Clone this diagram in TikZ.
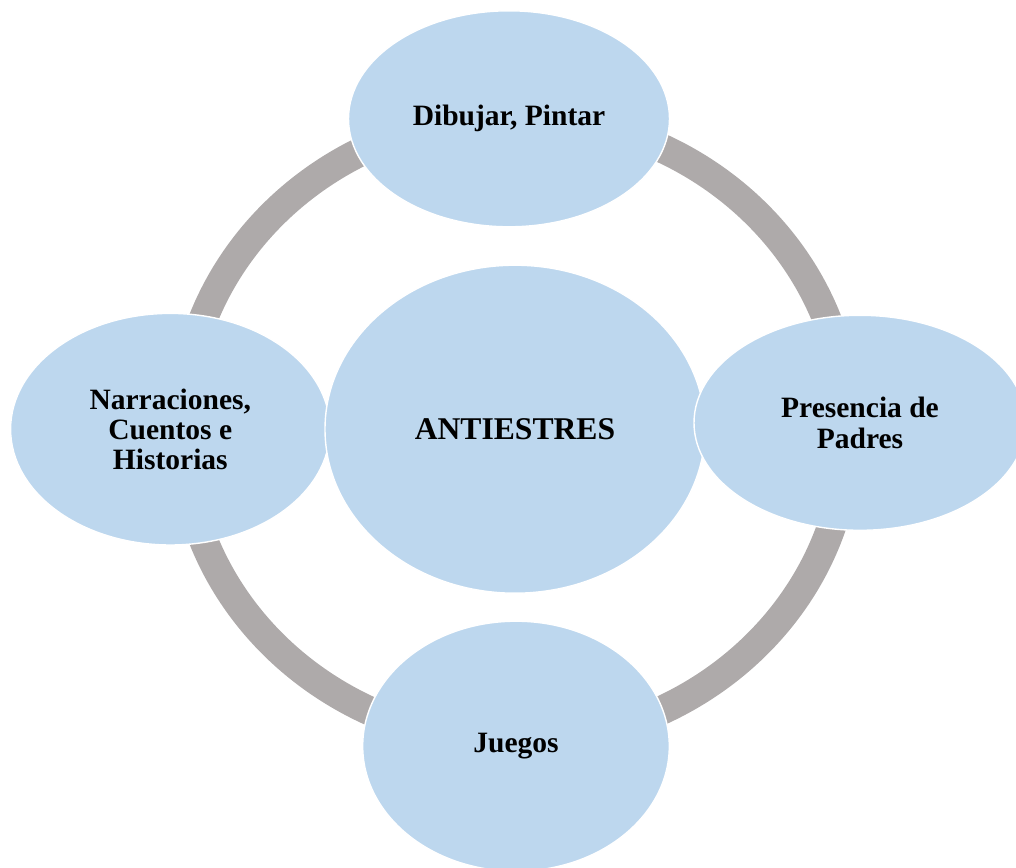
\documentclass[tikz,border=0pt]{standalone}
\usepackage{fontspec}
\setmainfont{Liberation Serif}
\usepackage{tikz}
\usetikzlibrary{shapes,positioning,backgrounds}
\definecolor{petalblue}{HTML}{BDD7EE}
\definecolor{ringgray}{HTML}{AEAAAA}

\begin{document}
\begin{tikzpicture}[
    petal/.style={ellipse, draw=white, line width=1pt, fill=petalblue, inner sep=0pt, outer sep=0pt, align=center, font=\fontsize{21}{21.5}\selectfont\bfseries},
    hub/.style={petal, minimum width=9.5cm, minimum height=8.2cm, font=\fontsize{22.5}{24}\selectfont\bfseries},
    ring/.style={draw=ringgray, line width=0.725cm}
]
\useasboundingbox (-4.2575,-10.945) rectangle (21.1425,10.73);

% Left
\node[petal, minimum width=7.985cm, minimum height=5.79cm] (narraciones) at (0,0) {Narraciones,\\Cuentos e\\Historias};

% Centre
\node[hub, right=-0.125cm of narraciones] (antiestres) {ANTIESTRES};

% Top, right, bottom
\node[petal, minimum width=8.025cm, minimum height=5.4cm, above=0.96cm of antiestres, xshift=-0.15cm] (dibujar) {Dibujar, Pintar};
\node[petal, minimum width=8.3cm, minimum height=5.375cm, right=-0.275cm of antiestres, yshift=0.16cm] (presencia) {Presencia de\\Padres};
\node[petal, minimum width=7.665cm, minimum height=6.25cm, below=0.7cm of antiestres, xshift=0.025cm] (juegos) {Juegos};

% Ring
\begin{scope}[on background layer]
\draw[ring] (antiestres) ellipse [x radius=8.325cm, y radius=7.825cm];
\end{scope}

\end{tikzpicture}
\end{document}
